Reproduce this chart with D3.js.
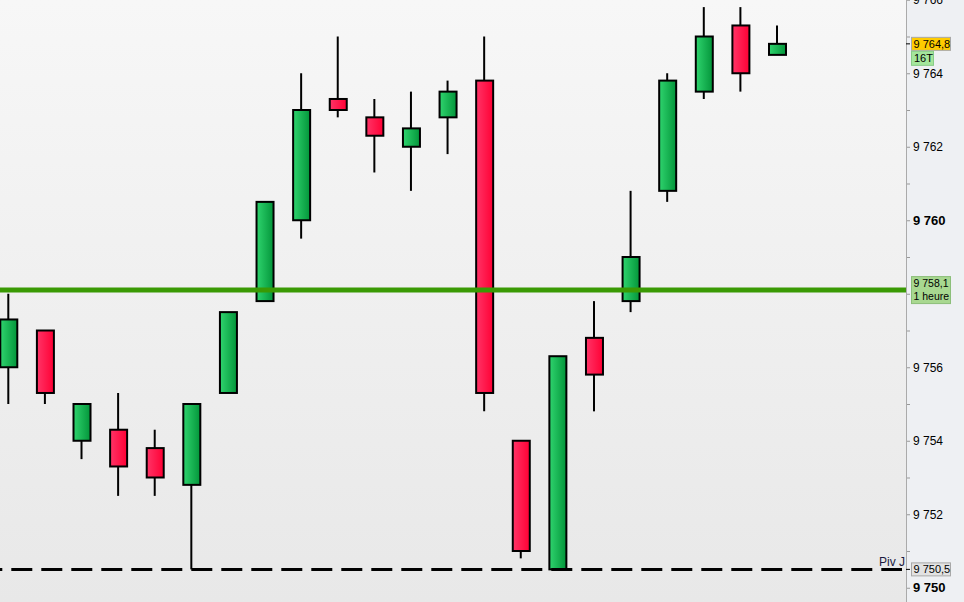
<!DOCTYPE html>
<html><head><meta charset="utf-8">
<script src="https://cdn.jsdelivr.net/npm/d3@7"></script>
<style>body{margin:0;background:#fff}svg{display:block;font-family:"Liberation Sans",Arial,sans-serif}</style>
</head><body><svg id="c" width="964" height="602"></svg>
<script>
const openV  = [9756.0,9757.0,9754.0,9754.3,9753.8,9752.8,9755.3,9757.8,9760.0,9763.3,9762.8,9762.0,9762.8,9763.8,9754.0,9750.5,9756.8,9757.8,9760.8,9763.5,9765.3,9764.5];
const highV  = [9758.0,9757.0,9755.0,9755.3,9754.3,9755.0,9757.5,9760.5,9764.0,9765.0,9763.3,9763.5,9763.8,9765.0,9754.0,9756.3,9757.8,9760.8,9764.0,9765.8,9765.8,9765.3];
const lowV   = [9755.0,9755.0,9753.5,9752.5,9752.5,9750.5,9755.3,9757.8,9759.5,9762.8,9761.3,9760.8,9761.8,9754.8,9750.8,9750.5,9754.8,9757.5,9760.5,9763.3,9763.5,9764.5];
const closeV = [9757.3,9755.3,9755.0,9753.3,9753.0,9755.0,9757.5,9760.5,9763.0,9763.0,9762.3,9762.5,9763.5,9755.3,9751.0,9756.3,9755.8,9759.0,9763.8,9765.0,9764.0,9764.8];
const tickValues = d3.range(9750, 9767, 1);
const lastPrice = 9764.8, lastLabel = "9 764,8", countLabel = "16T";
const levelValue = 9758.1, levelLabel = ["9 758,1", "1 heure"];
const pivotValue = 9750.5, pivotLabel = "9 750,5", pivotName = "Piv J";

const W = 964, H = 602, axisX = 906;
const svg = d3.select("#c");
const defs = svg.append("defs");
const bg = defs.append("linearGradient").attr("id","bg").attr("x1",0).attr("y1",0).attr("x2",0).attr("y2",1);
bg.append("stop").attr("offset","0%").attr("stop-color","#f7f7f7");
bg.append("stop").attr("offset","100%").attr("stop-color","#e8e8e8");
const gUp = defs.append("linearGradient").attr("id","up");
gUp.append("stop").attr("offset","0%").attr("stop-color","#2fd46e");
gUp.append("stop").attr("offset","100%").attr("stop-color","#03953a");
const gDn = defs.append("linearGradient").attr("id","dn");
gDn.append("stop").attr("offset","0%").attr("stop-color","#ff3467");
gDn.append("stop").attr("offset","100%").attr("stop-color","#ff0034");

svg.append("rect").attr("width",axisX).attr("height",H).attr("fill","url(#bg)");
svg.append("rect").attr("x",axisX).attr("width",W-axisX).attr("height",H).attr("fill","#eef0f3");

const y = d3.scaleLinear().domain([9750, 9760]).range([587.75, 220.25]);
const x = d3.scaleLinear().domain([0, 21]).range([8.3, 777]);
const idx = d3.range(openV.length);

const cg = svg.append("g");
cg.selectAll("line.w").data(idx).join("line")
  .attr("x1", i => x(i)).attr("x2", i => x(i))
  .attr("y1", i => y(highV[i])).attr("y2", i => y(lowV[i]))
  .attr("stroke","#000").attr("stroke-width",2);
cg.selectAll("rect.b").data(idx).join("rect")
  .attr("x", i => x(i) - 8).attr("width", 17)
  .attr("y", i => y(Math.max(openV[i], closeV[i])))
  .attr("height", i => Math.max(1, Math.abs(y(openV[i]) - y(closeV[i]))))
  .attr("fill", i => closeV[i] >= openV[i] ? "url(#up)" : "url(#dn)")
  .attr("stroke","#000").attr("stroke-width",2);

// level line
svg.append("line").attr("x1",0).attr("x2",axisX).attr("y1",y(levelValue)).attr("y2",y(levelValue))
  .attr("stroke","#3a9a04").attr("stroke-width",5);
// pivot dashed
svg.append("line").attr("x1",-18.7).attr("x2",axisX-4).attr("y1",y(pivotValue)).attr("y2",y(pivotValue))
  .attr("stroke","#000").attr("stroke-width",3).attr("stroke-dasharray","21,9");
svg.append("text").attr("x",905).attr("y",y(pivotValue)-3).attr("text-anchor","end")
  .attr("font-size",12).attr("fill","#1a1a40").text(pivotName);

// axis
const loc = d3.formatLocale({decimal:",", thousands:" ", grouping:[3], currency:["",""]});
const fmt = loc.format(",.0f");
const axis = d3.axisRight(y).tickValues(tickValues).tickSize(4).tickPadding(3)
  .tickFormat(d => d % 2 === 0 ? fmt(d) : "");
const ag = svg.append("g").attr("transform",`translate(${axisX},0)`).call(axis);
ag.select(".domain").remove();
ag.selectAll(".tick line").attr("stroke","#999");
ag.selectAll(".tick text").attr("fill","#000")
  .attr("font-size", d => d % 10 === 0 ? 13 : 12)
  .attr("font-weight", d => d % 10 === 0 ? "bold" : "normal")
  .attr("font-family","'Liberation Sans',Arial,sans-serif");
svg.append("line").attr("x1",axisX+0.5).attr("x2",axisX+0.5).attr("y1",0).attr("y2",H).attr("stroke","#aaa").attr("stroke-width",1);

function tag(v, w, h, fill, stroke, lines, dyTop, fs) {
  const top = y(v) - dyTop;
  svg.append("rect").attr("x",911.5).attr("y",top).attr("width",w).attr("height",h)
    .attr("fill",fill).attr("stroke",stroke).attr("stroke-width",1);
  lines.forEach((t, k) => svg.append("text").attr("x",913.5).attr("y",top + 10.5 + k*13)
    .attr("font-size",fs).attr("fill","#000").text(t));
}
svg.append("line").attr("x1",axisX).attr("x2",axisX+4).attr("y1",y(lastPrice)).attr("y2",y(lastPrice)).attr("stroke","#000");
tag(lastPrice, 39, 13, "#ffcc00", "#a8a8a8", [lastLabel], 6.5, 11);
svg.append("rect").attr("x",911.5).attr("y",y(lastPrice)+7.5).attr("width",22).attr("height",14)
  .attr("fill","#a4e69c").attr("stroke","#88cc88");
svg.append("text").attr("x",914).attr("y",y(lastPrice)+18.5).attr("font-size",11).attr("fill","#000").text(countLabel);
tag(levelValue, 39, 27, "#a8d890", "#8cbf7a", levelLabel, 13.5, 10.5);
svg.append("line").attr("x1",axisX).attr("x2",axisX+4).attr("y1",y(pivotValue)).attr("y2",y(pivotValue)).attr("stroke","#000");
tag(pivotValue, 39, 13, "#e2e2e2", "#a8a8a8", [pivotLabel], 6.5, 11);
</script></body></html>
